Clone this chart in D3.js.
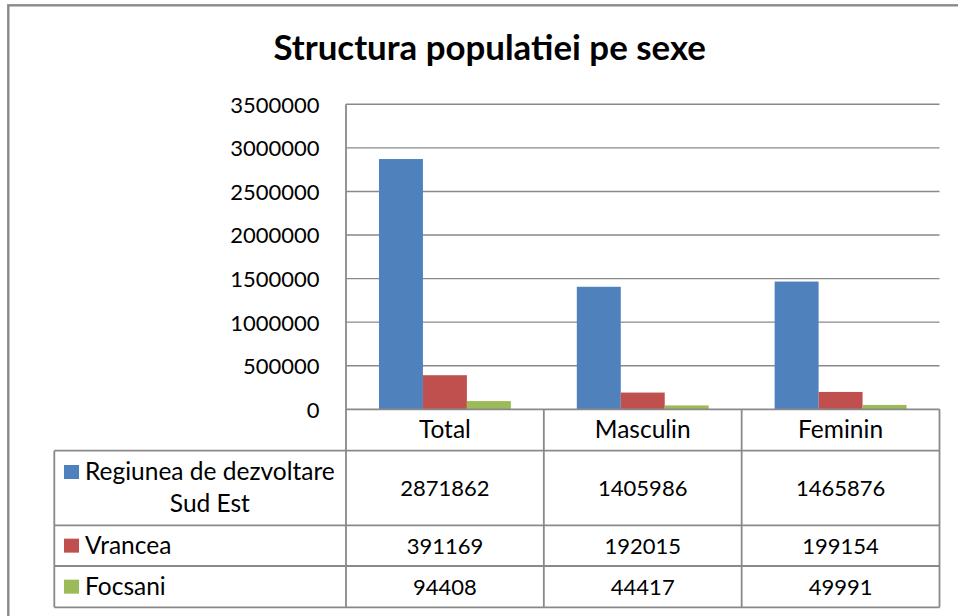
<!DOCTYPE html>
<html>
<head>
<meta charset="utf-8">
<script src="https://cdn.jsdelivr.net/npm/d3@7"></script>
<style>
  html, body { margin: 0; padding: 0; background: #fff; }
  svg { display: block; }
  text { font-family: Lato, "Open Sans", sans-serif; fill: #000; }
</style>
</head>
<body>
<svg id="chart" width="958" height="616"></svg>
<script>
// ---------- data ----------
const title = "Structura populatiei pe sexe";
const categories = ["Total", "Masculin", "Feminin"];
const seriesNames = ["Regiunea de dezvoltare Sud Est", "Vrancea", "Focsani"];
const regiuneaValues = [2871862, 1405986, 1465876];
const vranceaValues = [391169, 192015, 199154];
const focsaniValues = [94408, 44417, 49991];
const yTicks = [0, 500000, 1000000, 1500000, 2000000, 2500000, 3000000, 3500000];
const yMax = 3500000;

const seriesColors = ["#4F81BD", "#C0504D", "#9BBB59"];
const series = [
  { name: seriesNames[0], values: regiuneaValues, color: seriesColors[0] },
  { name: seriesNames[1], values: vranceaValues, color: seriesColors[1] },
  { name: seriesNames[2], values: focsaniValues, color: seriesColors[2] }
];

// ---------- layout ----------
const W = 958, H = 616;
const plotL = 346, plotR = 939.5, plotT = 104.3, plotB = 409.3;
const tableL = 54.3;
const rowEdges = [409.3, 450.7, 525.3, 566, 607.3];
const gridColor = "#898989";
const numSize = 22;      // digits
const labelSize = 24.5;  // words

const svg = d3.select("#chart");

// outer chart border (right & bottom fall outside the visible area)
svg.append("rect")
  .attr("x", 8.3).attr("y", 5.3)
  .attr("width", W + 20).attr("height", H + 20)
  .attr("fill", "#fff")
  .attr("stroke", "#8a8a8a").attr("stroke-width", 2.4);

// title
const titleEl = svg.append("text")
  .attr("x", (273.3 + 706) / 2).attr("y", 60)
  .attr("text-anchor", "middle")
  .attr("font-weight", "bold")
  .attr("font-size", 30)
  .text(title);
{
  const w = titleEl.node().getComputedTextLength();
  titleEl.attr("font-size", 30 * 432.7 / w);
}

// scales
const x0 = d3.scaleBand().domain(categories).range([plotL, plotR]).padding(0);
const bw = x0.bandwidth();
const x1 = d3.scaleBand().domain(series.map(s => s.name))
  .range([bw / 6, bw - bw / 6]).padding(0);
const y = d3.scaleLinear().domain([0, yMax]).range([plotB, plotT]);

// gridlines
svg.append("g").selectAll("line").data(yTicks.filter(t => t > 0)).join("line")
  .attr("x1", plotL).attr("x2", plotR)
  .attr("y1", d => y(d)).attr("y2", d => y(d))
  .attr("stroke", gridColor).attr("stroke-width", 1.4);

// y axis labels
const yAxis = d3.axisLeft(y).tickValues(yTicks).tickSize(0).tickPadding(0)
  .tickFormat(d3.format("d"));
const yg = svg.append("g").attr("transform", `translate(${319.5},0)`).call(yAxis);
yg.select(".domain").remove();
yg.selectAll("text")
  .attr("font-size", numSize)
  .attr("font-family", "Lato, 'Open Sans', sans-serif")
  .attr("fill", "#000")
  .attr("dy", "0.36em");

// bars
const groups = svg.append("g").selectAll("g").data(series).join("g")
  .attr("fill", d => d.color);
groups.selectAll("rect")
  .data(s => categories.map((c, i) => ({ cat: c, value: s.values[i], name: s.name })))
  .join("rect")
  .attr("x", d => x0(d.cat) + x1(d.name))
  .attr("width", x1.bandwidth())
  .attr("y", d => y(d.value))
  .attr("height", d => y(0) - y(d.value));

// table + axis lines
const lines = svg.append("g").attr("stroke", gridColor).attr("stroke-width", 1.8).attr("fill", "none");
lines.append("line").attr("x1", plotL).attr("x2", plotL).attr("y1", plotT).attr("y2", rowEdges[4]);
categories.forEach((c) => {
  const xe = x0(c) + bw;
  lines.append("line").attr("x1", xe).attr("x2", xe).attr("y1", rowEdges[0]).attr("y2", rowEdges[4]);
});
rowEdges.forEach((ry, i) => {
  lines.append("line")
    .attr("x1", i <= 0 ? plotL : tableL).attr("x2", plotR)
    .attr("y1", ry).attr("y2", ry);
});
lines.append("line").attr("x1", tableL).attr("x2", tableL).attr("y1", rowEdges[1]).attr("y2", rowEdges[4]);

// category header labels
svg.append("g").selectAll("text").data(categories).join("text")
  .attr("x", d => x0(d) + bw / 2)
  .attr("y", (rowEdges[0] + rowEdges[1]) / 2 + 8)
  .attr("text-anchor", "middle")
  .attr("font-size", labelSize)
  .text(d => d);

// table rows
series.forEach((s, r) => {
  const top = rowEdges[r + 1], bot = rowEdges[r + 2];
  const mid = (top + bot) / 2;
  categories.forEach((c, i) => {
    svg.append("text")
      .attr("x", x0(c) + bw / 2)
      .attr("y", mid + 8)
      .attr("text-anchor", "middle")
      .attr("font-size", numSize)
      .text(s.values[i]);
  });
  const textX = 85;
  const maxW = plotL - textX - 2;
  const words = s.name.split(" ");
  const linesArr = [];
  let cur = "";
  const meas = svg.append("text").attr("font-size", labelSize).attr("visibility", "hidden");
  words.forEach(w => {
    const test = cur ? cur + " " + w : w;
    meas.text(test);
    if (meas.node().getComputedTextLength() > maxW && cur) {
      linesArr.push(cur); cur = w;
    } else cur = test;
  });
  linesArr.push(cur);
  const widths = linesArr.map(l => { meas.text(l); return meas.node().getComputedTextLength(); });
  meas.remove();
  const blockW = d3.max(widths);
  const lineH = 32;
  const firstBase = mid + 8 - (linesArr.length - 1) * lineH / 2;
  const t = svg.append("text").attr("font-size", labelSize)
    .attr("text-anchor", linesArr.length > 1 ? "middle" : "start");
  linesArr.forEach((l, k) => {
    t.append("tspan")
      .attr("x", linesArr.length > 1 ? textX + blockW / 2 : textX)
      .attr("y", firstBase + k * lineH)
      .text(l);
  });
  svg.append("rect")
    .attr("x", 64).attr("y", firstBase - 15)
    .attr("width", 15).attr("height", 14)
    .attr("fill", s.color);
});
</script>
</body>
</html>
